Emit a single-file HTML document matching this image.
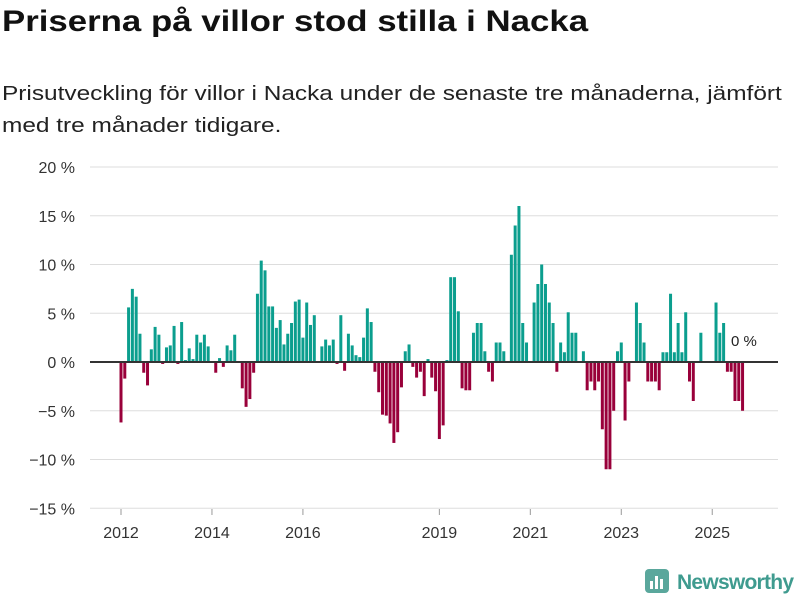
<!DOCTYPE html>
<html><head><meta charset="utf-8"><style>
body{margin:0;width:800px;height:600px;background:#fff;font-family:"Liberation Sans",sans-serif;overflow:hidden}
h1{position:absolute;left:2px;top:5px;margin:0;font-size:30px;font-weight:bold;color:#111;white-space:nowrap;transform:scaleX(1.16);transform-origin:left}
.sub{position:absolute;left:2px;margin:0;font-size:20px;line-height:32px;color:#222;white-space:nowrap;transform:scaleX(1.22);transform-origin:left}
svg{position:absolute;left:0;top:0}
</style></head><body>
<h1>Priserna på villor stod stilla i Nacka</h1>
<div class="sub" style="top:78px">Prisutveckling för villor i Nacka under de senaste tre månaderna, jämfört</div>
<div class="sub" style="top:110px">med tre månader tidigare.</div>
<svg id="chart" width="800" height="600"></svg>
<script>
const values=[-6.2,-1.7,5.6,7.5,6.7,2.9,-1.1,-2.4,1.3,3.6,2.8,-0.2,1.5,1.7,3.7,-0.2,4.1,0.2,1.4,0.3,2.8,2.0,2.8,1.6,0,-1.1,0.4,-0.5,1.7,1.2,2.8,0,-2.7,-4.6,-3.8,-1.1,
7.0,10.4,9.4,5.7,5.7,3.5,4.3,1.8,2.9,4.0,6.2,6.4,2.5,6.1,3.8,4.8,0,1.6,2.3,1.7,2.3,-0.2,4.8,-0.9,2.9,1.7,0.7,0.5,2.5,5.5,4.1,-1.0,-3.1,-5.4,-5.5,-6.3,-8.3,-7.2,-2.6,1.1,1.8,-0.5,
-1.6,-1.0,-3.5,0.3,-1.6,-3.0,-7.9,-6.5,0.2,8.7,8.7,5.2,-2.7,-2.9,-2.9,3.0,4.0,4.0,1.1,-1.0,-2.0,2.0,2.0,1.1,0,11.0,14.0,16.0,4.0,2.0,0,6.1,8.0,10.0,8.0,6.1,4.0,-1.0,2.0,1.0,5.1,3.0,
3.0,0,1.1,-2.9,-2.0,-2.9,-2.0,-6.9,-11.0,-11.0,-5.0,1.1,2.0,-6.0,-2.0,0,6.1,4.0,2.0,-2.0,-2.0,-2.0,-2.9,1.0,1.0,7.0,1.0,4.0,1.0,5.1,-2.0,-4.0,0,3.0,0,0,0,6.1,3.0,4.0,-1.0,-1.0,-4.0,-4.0,-5.0];
const startYear=2012;
const yTicks=[20,15,10,5,0,-5,-10,-15];
const xTickYears=[2012,2014,2016,2019,2021,2023,2025];
const svg=document.getElementById('chart');
const NS='http://www.w3.org/2000/svg';
const y=v=>362-v*9.75;
const x=i=>121+i*3.79;
function mk(t,a){const e=document.createElementNS(NS,t);for(const k in a)e.setAttribute(k,a[k]);svg.appendChild(e);return e;}
yTicks.forEach(t=>{
  if(t!==0){const g=mk('line',{x1:90,x2:778,y1:y(t),y2:y(t),stroke:'#ddd','stroke-width':1});
  
  }
  const l=mk('text',{x:75,y:y(t)+6,'text-anchor':'end','font-size':16,fill:'#333','font-family':'Liberation Sans, sans-serif'});
  l.textContent=(t<0?'−'+(-t):t)+' %';
  
  
});
values.forEach((v,i)=>{
  const r=mk('rect',{x:x(i)-1.5,width:3,y:Math.min(y(v),362),height:Math.abs(y(v)-362),fill:v>=0?'#0b9e8e':'#99003a'});
  
  
});
const z=mk('line',{x1:90,x2:778,y1:362,y2:362,stroke:'#333','stroke-width':2});


xTickYears.forEach(yr=>{
  const xi=x((yr-startYear)*12);
  const tk=mk('line',{x1:xi,x2:xi,y1:509,y2:515,stroke:'#999'});
  
  
  const l=mk('text',{x:xi,y:538,'text-anchor':'middle','font-size':16,fill:'#333','font-family':'Liberation Sans, sans-serif'});
  l.textContent=yr;
  
  
});
const a=mk('text',{x:731,y:346,'font-size':15,fill:'#222','font-family':'Liberation Sans, sans-serif'});
a.textContent='0 %';


</script>
<svg width="800" height="600" style="pointer-events:none">
<rect x="645" y="569" width="24" height="24" rx="4" fill="#5aa79c"/>
<rect x="650" y="581" width="3" height="8" fill="#fff"/><rect x="655" y="576" width="3" height="13" fill="#fff"/><rect x="660" y="579" width="3" height="10" fill="#fff"/>
<text x="677" y="589" font-size="21" font-weight="bold" fill="#3f9b8f" font-family="Liberation Sans, sans-serif" textLength="117">Newsworthy</text>
</svg>
</body></html>
